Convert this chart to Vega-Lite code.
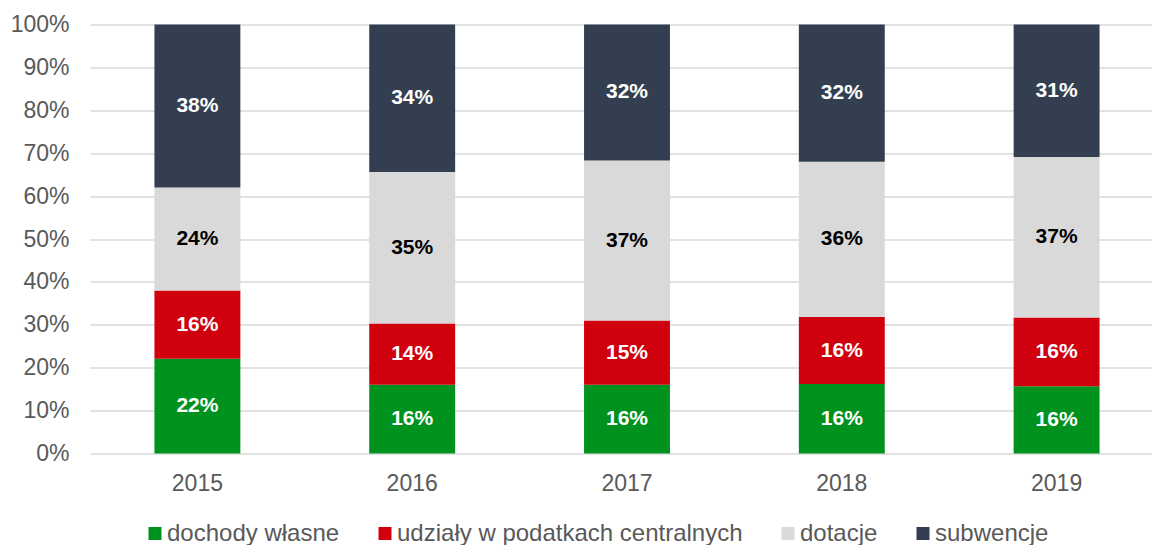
{
  "$schema": "https://vega.github.io/schema/vega-lite/v6.json",
  "width": 1074,
  "height": 429,
  "autosize": {"type": "none"},
  "padding": {"left": 90, "top": 24.5, "right": 0, "bottom": 91.5},
  "config": {"font": "Liberation Sans", "view": {"stroke": null}},
  "data": {"values": [
    {"year": "2015", "cat": "dochody własne", "ord": 1, "value": 0.221},
    {"year": "2015", "cat": "udziały w podatkach centralnych", "ord": 2, "value": 0.159},
    {"year": "2015", "cat": "dotacje", "ord": 3, "value": 0.240},
    {"year": "2015", "cat": "subwencje", "ord": 4, "value": 0.380},
    {"year": "2016", "cat": "dochody własne", "ord": 1, "value": 0.160},
    {"year": "2016", "cat": "udziały w podatkach centralnych", "ord": 2, "value": 0.143},
    {"year": "2016", "cat": "dotacje", "ord": 3, "value": 0.353},
    {"year": "2016", "cat": "subwencje", "ord": 4, "value": 0.344},
    {"year": "2017", "cat": "dochody własne", "ord": 1, "value": 0.160},
    {"year": "2017", "cat": "udziały w podatkach centralnych", "ord": 2, "value": 0.150},
    {"year": "2017", "cat": "dotacje", "ord": 3, "value": 0.373},
    {"year": "2017", "cat": "subwencje", "ord": 4, "value": 0.317},
    {"year": "2018", "cat": "dochody własne", "ord": 1, "value": 0.162},
    {"year": "2018", "cat": "udziały w podatkach centralnych", "ord": 2, "value": 0.156},
    {"year": "2018", "cat": "dotacje", "ord": 3, "value": 0.362},
    {"year": "2018", "cat": "subwencje", "ord": 4, "value": 0.320},
    {"year": "2019", "cat": "dochody własne", "ord": 1, "value": 0.157},
    {"year": "2019", "cat": "udziały w podatkach centralnych", "ord": 2, "value": 0.160},
    {"year": "2019", "cat": "dotacje", "ord": 3, "value": 0.374},
    {"year": "2019", "cat": "subwencje", "ord": 4, "value": 0.309}
  ]},
  "encoding": {
    "x": {
      "field": "year", "type": "nominal",
      "scale": {"paddingInner": 0.6, "paddingOuter": 0.3},
      "axis": {"title": null, "labelAngle": 0, "labelFontSize": 23, "labelColor": "#595959", "ticks": false, "domain": false, "labelPadding": 19}
    }
  },
  "layer": [
    {
      "mark": {"type": "bar"},
      "encoding": {
        "y": {
          "field": "value", "type": "quantitative", "stack": "zero",
          "scale": {"domain": [0, 1], "nice": false},
          "axis": {"title": null, "format": ".0%", "values": [0, 0.1, 0.2, 0.3, 0.4, 0.5, 0.6, 0.7, 0.8, 0.9, 1],
                   "labelFontSize": 23, "labelColor": "#595959", "ticks": false, "domain": false, "labelPadding": 21,
                   "gridColor": "#d9d9d9", "gridWidth": 1.5}
        },
        "color": {
          "field": "cat", "type": "nominal",
          "scale": {"domain": ["dochody własne", "udziały w podatkach centralnych", "dotacje", "subwencje"],
                    "range": ["#00921E", "#D0000E", "#D9D9D9", "#333F50"]},
          "legend": {"title": null, "orient": "none", "legendX": 53, "legendY": 497, "direction": "horizontal", "columns": 4,
                     "symbolType": "square", "symbolSize": 169, "symbolStrokeWidth": 0, "labelFontSize": 24, "labelColor": "#595959",
                     "labelOffset": 0, "columnPadding": 33, "labelLimit": 400}
        },
        "order": {"field": "ord"}
      }
    },
    {
      "transform": [
        {"stack": "value", "groupby": ["year"], "sort": [{"field": "ord"}], "as": ["y0", "y1"]},
        {"filter": "datum.cat != 'dotacje'"},
        {"fold": ["y0", "y1"], "as": ["k", "pos"]}
      ],
      "mark": {"type": "text", "fontWeight": "bold", "fontSize": 21, "fill": "white"},
      "encoding": {
        "y": {"field": "pos", "type": "quantitative", "aggregate": "mean"},
        "detail": {"field": "cat"},
        "text": {"field": "value", "aggregate": "max", "format": ".0%"}
      }
    },
    {
      "transform": [
        {"stack": "value", "groupby": ["year"], "sort": [{"field": "ord"}], "as": ["y0", "y1"]},
        {"filter": "datum.cat == 'dotacje'"},
        {"fold": ["y0", "y1"], "as": ["k", "pos"]}
      ],
      "mark": {"type": "text", "fontWeight": "bold", "fontSize": 21, "fill": "black"},
      "encoding": {
        "y": {"field": "pos", "type": "quantitative", "aggregate": "mean"},
        "detail": {"field": "cat"},
        "text": {"field": "value", "aggregate": "max", "format": ".0%"}
      }
    }
  ]
}
